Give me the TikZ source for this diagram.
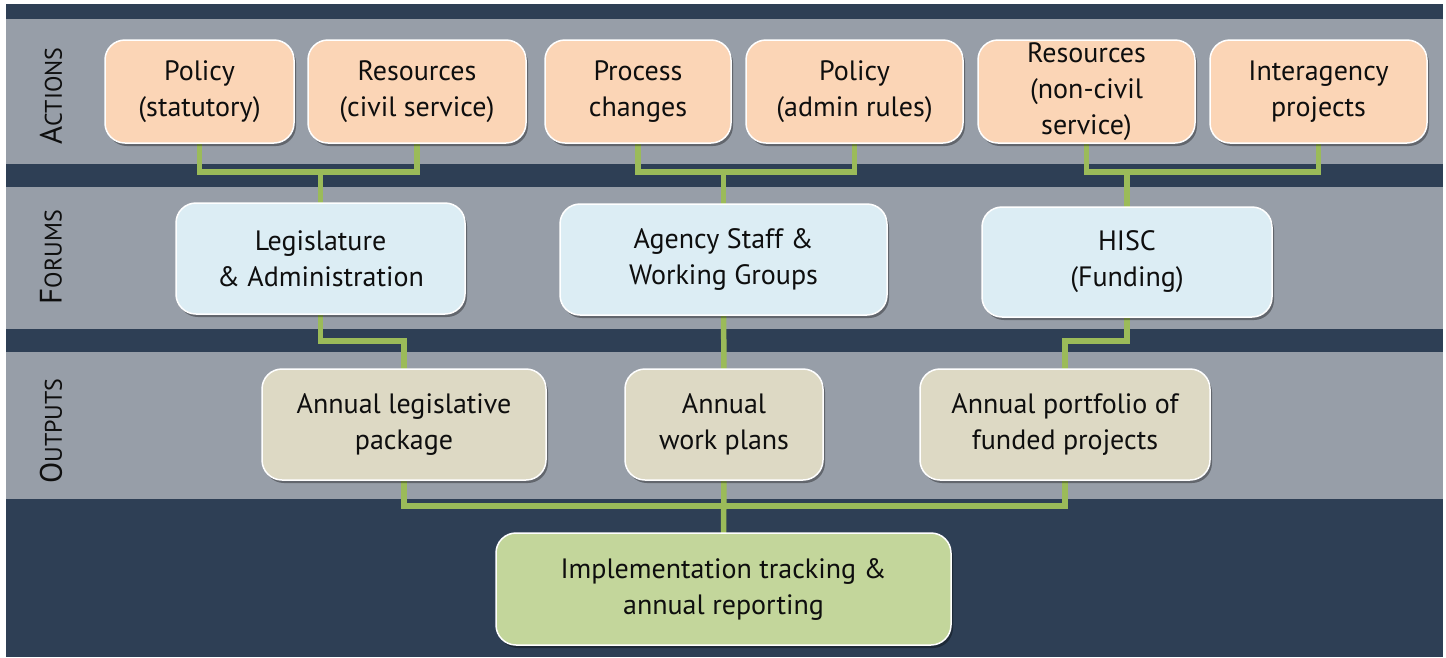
\documentclass[tikz,border=0pt]{standalone}
\usepackage{fontspec}
\setmainfont{PT Sans}
\usetikzlibrary{shadows}

\definecolor{navy}{HTML}{2E3F55}
\definecolor{bandgray}{HTML}{979EA8}
\definecolor{peach}{HTML}{FBD5B6}
\definecolor{skyblue}{HTML}{DCEDF4}
\definecolor{tan}{HTML}{DDD9C4}
\definecolor{olivebox}{HTML}{C3D69B}
\definecolor{linkgreen}{HTML}{9BBB59}
\definecolor{ink}{HTML}{0E0E0E}

\tikzset{
  box/.style={rectangle, rounded corners=20pt, draw=white, line width=1.5pt,
    inner sep=0pt, align=center, text=ink,
    font=\fontsize{28}{36}\selectfont,
    drop shadow={shadow xshift=2pt, shadow yshift=-3pt, opacity=0.35, fill=black}},
  actbox/.style={box, fill=peach, minimum height=103pt},
  forumbox/.style={box, fill=skyblue, minimum height=111pt},
  outbox/.style={box, fill=tan, minimum height=111pt},
  finalbox/.style={box, fill=olivebox, minimum height=112pt},
  link/.style={draw=linkgreen, line width=5.5pt, line join=miter},
  band/.style={fill=bandgray, draw=none},
  rowlabel/.style={rotate=90, text=ink, inner sep=0pt}
}

\newcommand{\rowname}[2]{{\fontsize{31}{31}\selectfont #1}{\fontsize{24}{24}\selectfont #2}}

\begin{document}
\begin{tikzpicture}[x=1pt, y=-1pt]
  \useasboundingbox (0,0) rectangle (1446,657);
  \fill[white] (0,0) rectangle (1446,657);

  % background panel and the three row bands
  \fill[navy] (6,4) rectangle (1443,657);
  \fill[band] (6,19) rectangle (1443,164);
  \fill[band] (6,187) rectangle (1443,329);
  \fill[band] (6,352) rectangle (1443,499);

  % row labels
  \node[rowlabel] (lblact) at (51,96) {\rowname{A}{CTIONS}};
  \node[rowlabel] (lblfor) at (51,257) {\rowname{F}{ORUMS}};
  \node[rowlabel] (lblout) at (51,431) {\rowname{O}{UTPUTS}};

  % junction levels of the connectors
  \coordinate (ja) at (0,172);
  \coordinate (jb) at (0,341);
  \coordinate (jc) at (0,506);

  % box centres, used for placing the boxes and routing the connectors
  \path
    (199.5,91.5) coordinate (cpst)
    (417,91.5) coordinate (crcs)
    (638,91.5) coordinate (cprc)
    (854.5,91.5) coordinate (cpar)
    (1086.5,91.5) coordinate (crnc)
    (1318.5,91.5) coordinate (ciap)
    (320.5,258.5) coordinate (cleg)
    (723.5,259.5) coordinate (cagy)
    (1127,262) coordinate (chisc)
    (404,424.5) coordinate (calp)
    (724,424.5) coordinate (cawp)
    (1065,424.5) coordinate (cafp)
    (723.5,589) coordinate (cimp);

  % connectors (drawn first so the boxes sit on top)
  \draw[link] (cpst) -- (cpst |- ja) -- (crcs |- ja) -- (crcs);
  \draw[link] (cleg |- ja) -- (cleg);
  \draw[link] (cprc) -- (cprc |- ja) -- (cpar |- ja) -- (cpar);
  \draw[link] (cagy |- ja) -- (cagy);
  \draw[link] (crnc) -- (crnc |- ja) -- (ciap |- ja) -- (ciap);
  \draw[link] (chisc |- ja) -- (chisc);

  \draw[link] (cleg) -- (cleg |- jb) -- (calp |- jb) -- (calp);
  \draw[link] (cagy) -- (cawp);
  \draw[link] (chisc) -- (chisc |- jb) -- (cafp |- jb) -- (cafp);

  \draw[link] (calp) -- (calp |- jc) -- (cafp |- jc) -- (cafp);
  \draw[link] (cawp) -- (cimp);

  % actions
  \node[actbox, minimum width=189pt] (pst) at (cpst) {Policy\\(statutory)};
  \node[actbox, minimum width=218pt] (rcs) at (crcs) {Resources\\(civil service)};
  \node[actbox, minimum width=186pt] (prc) at (cprc) {Process\\changes};
  \node[actbox, minimum width=217pt] (par) at (cpar) {Policy\\(admin rules)};
  \node[actbox, minimum width=217pt] (rnc) at (crnc) {Resources\\(non-civil\\service)};
  \node[actbox, minimum width=217pt] (iap) at (ciap) {Interagency\\projects};

  % forums
  \node[forumbox, minimum width=289pt] (leg) at (cleg) {Legislature\\\& Administration};
  \node[forumbox, minimum width=327pt] (agy) at (cagy) {Agency Staff \&\\Working Groups};
  \node[forumbox, minimum width=290pt, minimum height=110pt] (hisc) at (chisc) {HISC\\(Funding)};

  % outputs
  \node[outbox, minimum width=284pt] (alp) at (calp) {Annual legislative\\package};
  \node[outbox, minimum width=198pt] (awp) at (cawp) {Annual\\work plans};
  \node[outbox, minimum width=290pt] (afp) at (cafp) {Annual portfolio of\\funded projects};

  % reporting
  \node[finalbox, minimum width=455pt] (imp) at (cimp) {Implementation tracking \&\\annual reporting};
\end{tikzpicture}
\end{document}
